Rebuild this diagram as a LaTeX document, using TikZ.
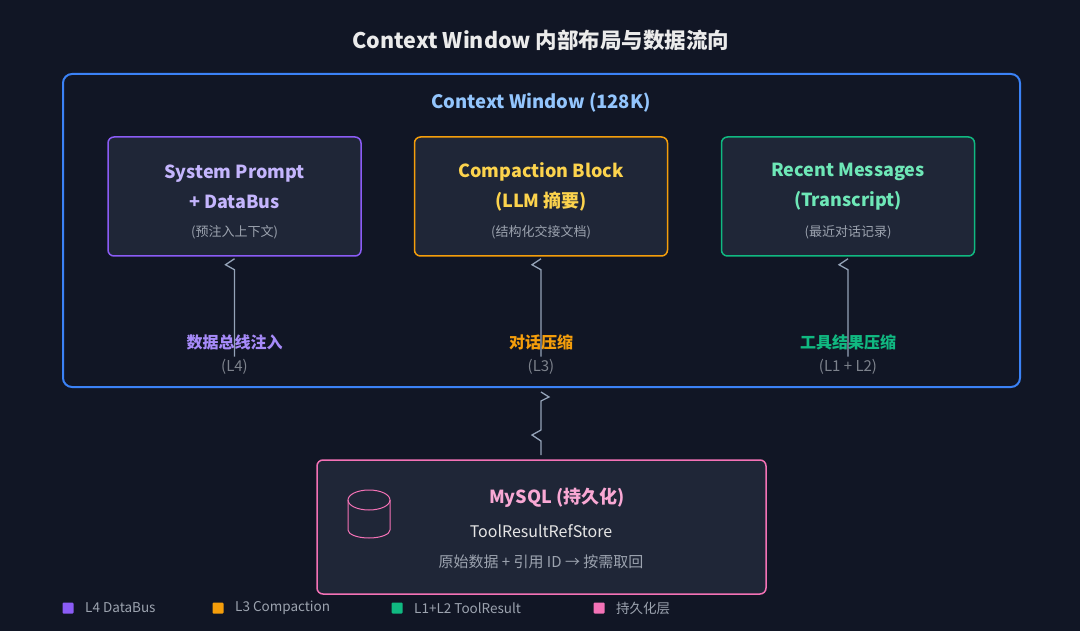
\documentclass[tikz,border=0pt]{standalone}
\usepackage{fontspec}
\setmainfont{Noto Sans CJK SC}
\usetikzlibrary{arrows.meta, positioning, shapes.geometric}

\definecolor{bgdark}{HTML}{111625}
\definecolor{boxfill}{HTML}{1F2637}
\definecolor{winblue}{HTML}{3B82F6}
\definecolor{winlabel}{HTML}{93C5FD}
\definecolor{purp}{HTML}{8B5CF6}
\definecolor{purptxt}{HTML}{C4B5FD}
\definecolor{purplbl}{HTML}{A78BFA}
\definecolor{oran}{HTML}{F59E0B}
\definecolor{orantxt}{HTML}{FCD34D}
\definecolor{gree}{HTML}{10B981}
\definecolor{greetxt}{HTML}{6EE7B7}
\definecolor{pink}{HTML}{F472B6}
\definecolor{pinktxt}{HTML}{F9A8D4}
\definecolor{subgray}{HTML}{9CA3AF}
\definecolor{linegray}{HTML}{94A3B8}

\tikzset{
  layer/.style={draw=#1, line width=1.5pt, fill=boxfill, rounded corners=6pt,
    minimum width=253pt, minimum height=119pt, inner sep=0pt},
  flow/.style={draw=linegray, line width=1.3pt},
  legbox/.style={fill=#1, minimum size=11pt, inner sep=0pt, rounded corners=1pt},
  legtext/.style={text=subgray, font=\fontsize{13.5}{16}\selectfont, anchor=west},
}
% one-sided chevron tip above a point
\newcommand{\upbarb}[1]{\draw[flow] ([yshift=-2pt]#1) -- ++(-9,6) -- ++(9,5) -- ++(0,87);}

\begin{document}
\begin{tikzpicture}[x=1pt, y=-1pt]
  % Background
  \fill[bgdark] (0,0) rectangle (1080,631);
  \useasboundingbox (0,0) rectangle (1080,631);

  % Title
  \node (title) at (541,40) {\fontsize{21.5}{24}\selectfont\bfseries\color{white!92!black} Context Window 内部布局与数据流向};

  % Context window
  \draw[winblue, line width=2pt, rounded corners=9pt] (63,74) rectangle (1020,387);
  \node (winlbl) at (541,103) {\fontsize{18.5}{20}\selectfont\bfseries\color{winlabel} Context Window (128K)};

  % Layers
  \node[layer=purp] (sys) at (234.5,196.5) {};
  \node[layer=oran] (comp) at (541,196.5) {};
  \node[layer=gree] (recent) at (848,196.5) {};

  \node[align=center, text=purptxt, font=\fontsize{18}{30}\selectfont\bfseries] at (234.5,187) {System Prompt\\+ DataBus};
  \node[text=subgray, font=\fontsize{13}{14}\selectfont] at (234.5,232) {(预注入上下文)};
  \node[align=center, text=orantxt, font=\fontsize{18}{30}\selectfont\bfseries] at (541,187) {Compaction Block\\(LLM 摘要)};
  \node[text=subgray, font=\fontsize{13}{14}\selectfont] at (541,232) {(结构化交接文档)};
  \node[align=center, text=greetxt, font=\fontsize{18}{30}\selectfont\bfseries] at (848,187) {Recent Messages\\(Transcript)};
  \node[text=subgray, font=\fontsize{13}{14}\selectfont] at (848,232) {(最近对话记录)};

  % Flow labels
  \node[text=purplbl, font=\fontsize{16}{18}\selectfont\bfseries] (lblA) at (234.5,342) {数据总线注入};
  \node[text=subgray!80!black, font=\fontsize{15}{16}\selectfont] (subA) at (234.5,367) {(L4)};
  \node[text=oran, font=\fontsize{16}{18}\selectfont\bfseries] (lblB) at (541,342) {对话压缩};
  \node[text=subgray!80!black, font=\fontsize{15}{16}\selectfont] (subB) at (541,367) {(L3)};
  \node[text=gree, font=\fontsize{16}{18}\selectfont\bfseries] (lblC) at (848,342) {工具结果压缩};
  \node[text=subgray!80!black, font=\fontsize{15}{16}\selectfont] (subC) at (848,367) {(L1 + L2)};

  \upbarb{sys.south}
  \upbarb{comp.south}
  \upbarb{recent.south}

  % Storage
  \node[layer=pink, minimum width=449pt, minimum height=134pt] (store) at (541.5,527) {};
  \node[text=pinktxt, font=\fontsize{18}{20}\selectfont\bfseries] at (557,498) {MySQL (持久化)};
  \node[text=white!90!black, font=\fontsize{16}{18}\selectfont] at (541,531) {ToolResultRefStore};
  \node[text=subgray, font=\fontsize{15}{16}\selectfont] at (541,562) {原始数据 + 引用 ID → 按需取回};
  % Database icon
  \draw[pink, line width=1pt] (348,500) -- (348,530) arc[start angle=180, end angle=360, x radius=21pt, y radius=8pt] -- (390,500);
  \draw[pink, line width=1pt] (369,500) ellipse[x radius=21pt, y radius=10pt];

  % Window <-> storage
  \coordinate (wb) at (541,455);
  \draw[flow] (wb) -- ++(0,-14) -- ++(-9,-6) -- ++(9,-5) -- ++(0,-15) -- ++(0,-14) -- ++(8,-4) -- ++(-8,-5);

  % Legend
  \node[legbox=purp] (kA) at (68,608) {};
  \node[legtext, right=8pt of kA] {L4 DataBus};
  \node[legbox=oran] (kB) at (218,608) {};
  \node[legtext, right=8pt of kB] {L3 Compaction};
  \node[legbox=gree] (kC) at (397,608) {};
  \node[legtext, right=8pt of kC] {L1+L2 ToolResult};
  \node[legbox=pink] (kD) at (599,608) {};
  \node[legtext, right=8pt of kD] {持久化层};
\end{tikzpicture}
\end{document}
